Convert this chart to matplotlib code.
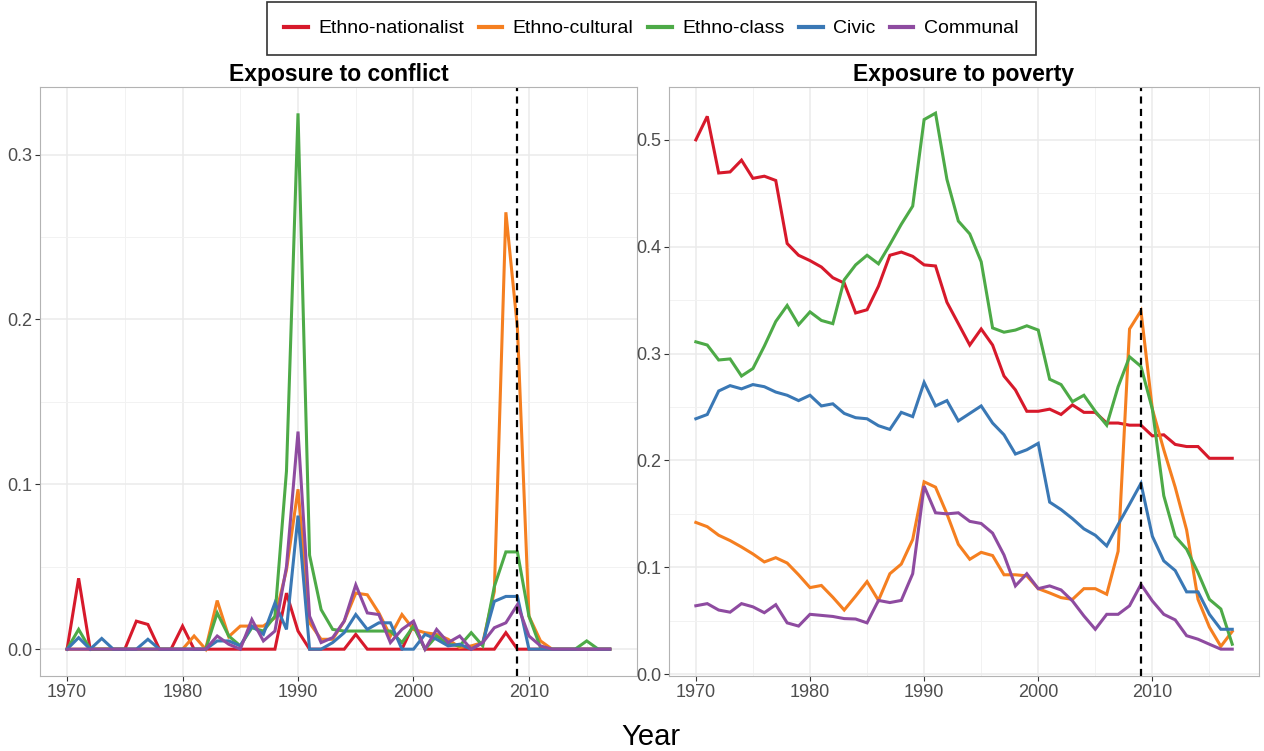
import matplotlib.pyplot as plt
from matplotlib.lines import Line2D
from matplotlib.ticker import MultipleLocator
import numpy as np

plt.rcParams['font.family'] = ['Liberation Sans', 'DejaVu Sans']

years = np.arange(1970, 2018)

groups = ["Ethno-nationalist", "Ethno-cultural", "Ethno-class", "Civic", "Communal"]
colors = ["#D7192B", "#F57F20", "#4DAA47", "#3A78B5", "#8E4BA0"]

# exposure to conflict, one value per year 1970-2017
conflict_nationalist = [0, 0.043, 0, 0, 0, 0, 0.017, 0.015, 0, 0,
                        0.014, 0, 0, 0, 0, 0, 0, 0, 0, 0.034,
                        0.011, 0, 0, 0, 0, 0.009, 0, 0, 0, 0,
                        0.015, 0, 0, 0, 0, 0, 0, 0, 0.010, 0,
                        0, 0, 0, 0, 0, 0, 0, 0]
conflict_cultural = [0, 0, 0, 0, 0, 0, 0, 0, 0, 0,
                     0, 0.008, 0, 0.0295, 0.0076, 0.014, 0.014, 0.014, 0.019, 0.048,
                     0.097, 0.016, 0.006, 0.006, 0.017, 0.034, 0.033, 0.022, 0.008, 0.021,
                     0.012, 0.010, 0.009, 0.006, 0.001, 0.002, 0.004, 0.035, 0.265, 0.195,
                     0.020, 0.005, 0, 0, 0, 0, 0, 0]
conflict_class = [0, 0.012, 0, 0, 0, 0, 0, 0, 0, 0,
                  0, 0, 0, 0.022, 0.008, 0.002, 0.013, 0.011, 0.020, 0.108,
                  0.325, 0.057, 0.024, 0.012, 0.011, 0.011, 0.011, 0.011, 0.011, 0.004,
                  0.014, 0, 0.008, 0.003, 0.002, 0.010, 0.002, 0.038, 0.059, 0.059,
                  0.020, 0.001, 0, 0, 0, 0.005, 0, 0]
conflict_civic = [0, 0.007, 0, 0.0065, 0, 0, 0, 0.006, 0, 0,
                  0, 0, 0, 0.005, 0.005, 0.002, 0.014, 0.009, 0.028, 0.012,
                  0.081, 0, 0, 0.004, 0.010, 0.021, 0.012, 0.016, 0.016, 0,
                  0, 0.009, 0.006, 0.002, 0.003, 0, 0.004, 0.029, 0.032, 0.032,
                  0, 0, 0, 0, 0, 0, 0, 0]
conflict_communal = [0, 0, 0, 0, 0, 0, 0, 0, 0, 0,
                     0, 0, 0, 0.008, 0.003, 0, 0.018, 0.005, 0.011, 0.050,
                     0.132, 0.020, 0.004, 0.007, 0.017, 0.039, 0.022, 0.021, 0.004, 0.012,
                     0.017, 0, 0.012, 0.004, 0.008, 0, 0.004, 0.013, 0.016, 0.027,
                     0.008, 0.002, 0, 0, 0, 0, 0, 0]

# exposure to poverty
poverty_nationalist = [0.500, 0.522, 0.469, 0.470, 0.481, 0.464, 0.466, 0.462, 0.403, 0.392,
                       0.387, 0.381, 0.371, 0.366, 0.338, 0.341, 0.363, 0.392, 0.395, 0.391,
                       0.383, 0.382, 0.348, 0.328, 0.308, 0.323, 0.308, 0.279, 0.266, 0.246,
                       0.246, 0.248, 0.243, 0.252, 0.245, 0.245, 0.235, 0.235, 0.233, 0.233,
                       0.223, 0.224, 0.215, 0.213, 0.213, 0.202, 0.202, 0.202]
poverty_cultural = [0.142, 0.138, 0.130, 0.125, 0.119, 0.1125, 0.105, 0.109, 0.104, 0.093,
                    0.081, 0.083, 0.072, 0.060, 0.073, 0.0866, 0.069, 0.094, 0.103, 0.126,
                    0.180, 0.175, 0.150, 0.1215, 0.1075, 0.114, 0.111, 0.093, 0.093, 0.092,
                    0.080, 0.076, 0.0716, 0.070, 0.080, 0.080, 0.0748, 0.115, 0.323, 0.340,
                    0.248, 0.210, 0.175, 0.135, 0.070, 0.044, 0.026, 0.040]
poverty_class = [0.311, 0.308, 0.294, 0.295, 0.279, 0.286, 0.307, 0.330, 0.345, 0.327,
                 0.339, 0.331, 0.328, 0.369, 0.383, 0.392, 0.384, 0.402, 0.421, 0.438,
                 0.519, 0.525, 0.463, 0.424, 0.412, 0.386, 0.324, 0.320, 0.322, 0.326,
                 0.322, 0.276, 0.271, 0.255, 0.261, 0.246, 0.233, 0.269, 0.297, 0.288,
                 0.248, 0.167, 0.129, 0.117, 0.095, 0.070, 0.061, 0.028]
poverty_civic = [0.239, 0.243, 0.265, 0.270, 0.267, 0.271, 0.269, 0.264, 0.261, 0.256,
                 0.261, 0.251, 0.253, 0.244, 0.240, 0.239, 0.2325, 0.229, 0.245, 0.241,
                 0.273, 0.251, 0.256, 0.237, 0.244, 0.251, 0.235, 0.224, 0.206, 0.210,
                 0.216, 0.161, 0.154, 0.1455, 0.136, 0.130, 0.120, 0.140, 0.159, 0.1785,
                 0.129, 0.106, 0.097, 0.077, 0.077, 0.056, 0.042, 0.042]
poverty_communal = [0.064, 0.066, 0.060, 0.058, 0.066, 0.063, 0.0575, 0.065, 0.048, 0.045,
                    0.056, 0.055, 0.054, 0.052, 0.0516, 0.048, 0.069, 0.067, 0.069, 0.094,
                    0.176, 0.151, 0.150, 0.151, 0.143, 0.141, 0.132, 0.1115, 0.0826, 0.094,
                    0.080, 0.0826, 0.0788, 0.0685, 0.0545, 0.042, 0.056, 0.056, 0.064, 0.084,
                    0.0685, 0.056, 0.0508, 0.036, 0.0327, 0.028, 0.0234, 0.0234]

conflict = [conflict_nationalist, conflict_cultural, conflict_class, conflict_civic, conflict_communal]
poverty = [poverty_nationalist, poverty_cultural, poverty_class, poverty_civic, poverty_communal]

cutoff_year = 2009

fig = plt.figure(figsize=(12.64, 7.51), dpi=100)
ax1 = fig.add_axes([0.0316, 0.0999, 0.4723, 0.7843])
ax2 = fig.add_axes([0.5293, 0.0999, 0.4668, 0.7843])


def style_panel(ax, title, ylim, ystep):
    ax.set_xlim(1967.65, 2019.35)
    ax.set_ylim(*ylim)
    ax.xaxis.set_major_locator(MultipleLocator(10))
    ax.xaxis.set_minor_locator(MultipleLocator(5))
    ax.yaxis.set_major_locator(MultipleLocator(ystep))
    ax.yaxis.set_minor_locator(MultipleLocator(ystep / 2))
    ax.grid(which='major', color='#EBEBEB', linewidth=1.1, zorder=0)
    ax.grid(which='minor', color='#F2F2F2', linewidth=0.7, zorder=0)
    ax.set_axisbelow(True)
    ax.tick_params(which='major', length=3.5, width=0.8, color='#333333',
                   labelsize=13, labelcolor='#4D4D4D', pad=2)
    ax.tick_params(which='minor', length=0)
    for s in ax.spines.values():
        s.set_color('#B3B3B3')
        s.set_linewidth(0.8)
    ax.yaxis.set_major_formatter(lambda v, p: f"{v:.1f}")
    ax.set_title(title, fontsize=16.5, fontweight='bold', pad=4)


for ax, series in [(ax1, conflict), (ax2, poverty)]:
    for vals, col in zip(series, colors):
        ax.plot(years, vals, color=col, linewidth=2.2, solid_joinstyle='miter')
    ax.axvline(cutoff_year, color='black', linestyle=(0, (3.2, 2.4)), linewidth=1.6)

style_panel(ax1, "Exposure to conflict", (-0.01625, 0.341), 0.1)
style_panel(ax2, "Exposure to poverty", (-0.0017, 0.5495), 0.1)

fig.text(0.515, 1 - 737 / 751, "Year", fontsize=21, ha='center', va='center')

handles = [Line2D([], [], color=c, linewidth=3) for c in colors]
leg = fig.legend(handles, groups, loc='center', bbox_to_anchor=(0.5154, 0.962), ncol=5,
                 fontsize=14, frameon=True, fancybox=False, handlelength=1.2,
                 handletextpad=0.55, columnspacing=0.75, borderpad=0.9)
leg.get_frame().set_edgecolor('black')
leg.get_frame().set_linewidth(1.2)

fig.savefig("out.png", dpi=100)
